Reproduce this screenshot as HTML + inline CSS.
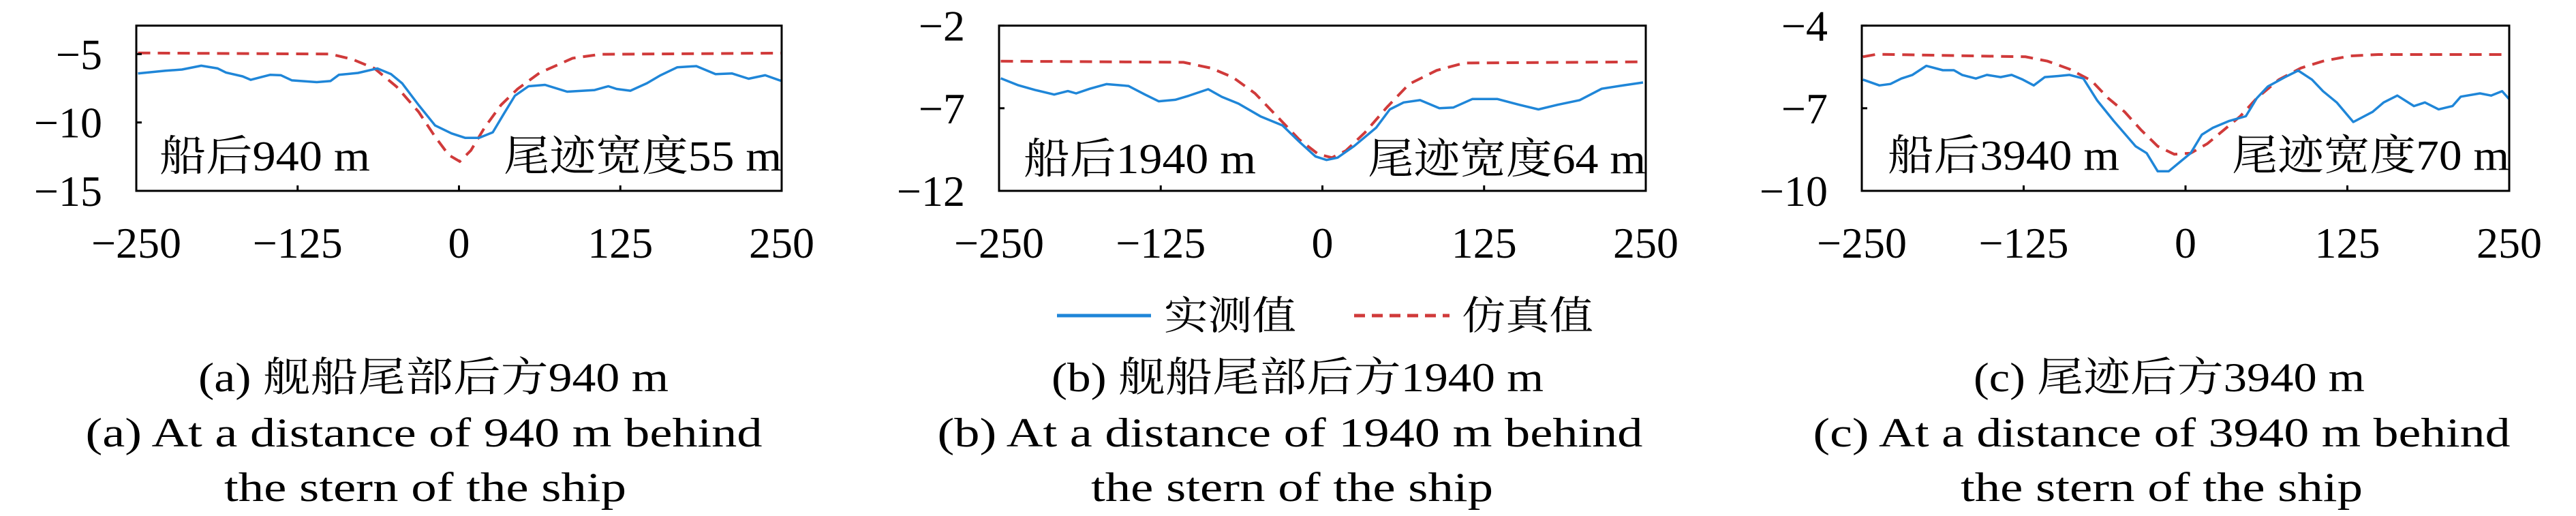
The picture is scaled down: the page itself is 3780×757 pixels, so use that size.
<!DOCTYPE html>
<html><head><meta charset="utf-8"><style>
html,body{margin:0;padding:0;background:#fff;width:3780px;height:757px;overflow:hidden}
svg text{font-family:"Liberation Serif","Noto Serif CJK SC","Noto Sans CJK SC",serif;fill:#000}
</style></head><body>
<svg id="fig" width="3780" height="757" viewBox="0 0 3780 757" xmlns="http://www.w3.org/2000/svg">
<g id="panels"></g>
<g>
<line x1="1551" y1="463" x2="1689" y2="463" stroke="#1f86d8" stroke-width="5"/>
<text x="1708" y="483" font-size="58" textLength="194" lengthAdjust="spacingAndGlyphs">实测值</text>
<line x1="1987" y1="463" x2="2127" y2="463" stroke="#d03a3a" stroke-width="5" stroke-dasharray="16,10"/>
<text x="2145" y="483" font-size="58" textLength="193" lengthAdjust="spacingAndGlyphs">仿真值</text>
</g>
<g font-size="60" text-anchor="middle">
<text x="636" y="574" textLength="690" lengthAdjust="spacingAndGlyphs">(a) 舰船尾部后方940 m</text>
<text x="622" y="655" textLength="993" lengthAdjust="spacingAndGlyphs">(a) At a distance of 940 m behind</text>
<text x="624" y="735" textLength="590" lengthAdjust="spacingAndGlyphs">the stern of the ship</text>
<text x="1904" y="574" textLength="722" lengthAdjust="spacingAndGlyphs">(b) 舰船尾部后方1940 m</text>
<text x="1893" y="655" textLength="1035" lengthAdjust="spacingAndGlyphs">(b) At a distance of 1940 m behind</text>
<text x="1896" y="735" textLength="590" lengthAdjust="spacingAndGlyphs">the stern of the ship</text>
<text x="3183" y="574" textLength="574" lengthAdjust="spacingAndGlyphs">(c) 尾迹后方3940 m</text>
<text x="3172" y="655" textLength="1023" lengthAdjust="spacingAndGlyphs">(c) At a distance of 3940 m behind</text>
<text x="3172" y="735" textLength="590" lengthAdjust="spacingAndGlyphs">the stern of the ship</text>
</g>
</svg>
<script>
const xTicks = [-250, -125, 0, 125, 250];
const yTicksA = [-5, -10, -15];
const yTicksB = [-2, -7, -12];
const yTicksC = [-4, -7, -10];
const measAx = [-248.7,-227.4,-214.6,-199.7,-186.9,-180.5,-167.7,-161.3,-146.4,-137.9,-129.4,-110.2,-99.5,-93.1,-78.2,-63.3,-52.6,-44.1,-31.3,-18.5,-5.8,4.9,15.6,26.2,34.7,43.3,53.9,66.7,83.8,105.1,115.7,122.1,132.8,145.6,156.2,169.0,183.9,198.8,211.6,224.4,237.2,250];
const measAy = [-6.42,-6.22,-6.13,-5.85,-6.05,-6.35,-6.63,-6.88,-6.52,-6.55,-6.92,-7.05,-6.97,-6.52,-6.38,-6.05,-6.47,-7.13,-8.72,-10.22,-10.8,-11.13,-11.13,-10.72,-9.38,-8.05,-7.35,-7.25,-7.75,-7.63,-7.35,-7.55,-7.68,-7.13,-6.55,-5.97,-5.88,-6.47,-6.42,-6.8,-6.55,-6.97];
const simAx = [-248.7,-99.5,-82.5,-65.4,-48.4,-31.3,-18.5,-7.9,0.6,9.2,19.8,32.6,45.4,62.4,88.0,109.3,250];
const simAy = [-4.92,-5.0,-5.38,-6.05,-7.38,-9.22,-11.05,-12.38,-12.85,-12.05,-10.38,-8.72,-7.55,-6.38,-5.3,-5.02,-4.93];
const measBx = [-248.7,-235.1,-222.3,-207.4,-196.8,-190.4,-179.8,-167.0,-150.0,-137.2,-126.6,-113.8,-103.2,-88.3,-77.7,-64.9,-47.9,-30.9,-18.1,-5.3,3.2,11.7,24.5,41.5,52.1,62.8,75.5,90.4,101.1,116.0,135.1,152.1,167.0,181.9,198.9,215.9,233.0,247.9];
const measBy = [-5.19,-5.61,-5.89,-6.17,-5.96,-6.10,-5.82,-5.54,-5.65,-6.17,-6.58,-6.49,-6.24,-5.85,-6.31,-6.72,-7.49,-8.04,-9.01,-9.92,-10.13,-9.99,-9.29,-8.18,-7.07,-6.65,-6.51,-7.0,-6.96,-6.44,-6.44,-6.79,-7.07,-6.79,-6.51,-5.82,-5.61,-5.44];
const simBx = [-248.7,-107.4,-86.2,-69.1,-52.1,-35.1,-18.1,-3.2,7.4,18.1,33.0,50.0,67.0,88.3,109.6,250];
const simBy = [-4.15,-4.22,-4.57,-5.13,-6.10,-7.49,-8.88,-9.78,-9.99,-9.57,-8.46,-6.93,-5.54,-4.71,-4.26,-4.19];
const measCx = [-249.1,-236.4,-227.9,-219.4,-210.9,-200.2,-187.4,-178.9,-172.6,-161.9,-153.4,-142.8,-134.3,-125.7,-117.2,-108.7,-98.1,-89.6,-78.9,-68.3,-55.5,-47.0,-38.5,-30.0,-21.5,-13.0,-4.5,4.0,12.6,21.1,33.8,46.6,55.1,63.6,76.4,87.0,97.7,106.2,116.8,129.6,144.5,153.0,163.6,176.4,184.9,195.5,206.2,212.6,227.4,236.0,244.5,250];
const measCy = [-5.96,-6.17,-6.12,-5.92,-5.79,-5.46,-5.62,-5.62,-5.79,-5.92,-5.79,-5.87,-5.79,-5.96,-6.17,-5.87,-5.83,-5.79,-5.92,-6.71,-7.46,-7.92,-8.38,-8.63,-9.29,-9.29,-8.96,-8.63,-7.96,-7.71,-7.46,-7.29,-6.63,-6.21,-5.88,-5.63,-5.96,-6.38,-6.79,-7.5,-7.13,-6.79,-6.54,-6.92,-6.79,-7.04,-6.92,-6.58,-6.46,-6.54,-6.38,-6.67];
const simCx = [-249.1,-238.5,-123.6,-106.6,-89.6,-72.6,-59.8,-47.0,-34.3,-21.5,-8.7,4.0,16.8,29.6,42.3,55.1,72.1,89.1,106.2,127.4,148.7,250];
const simCy = [-5.13,-5.04,-5.13,-5.29,-5.58,-6.0,-6.63,-7.13,-7.79,-8.38,-8.67,-8.63,-8.29,-7.79,-7.29,-6.63,-5.96,-5.54,-5.29,-5.1,-5.05,-5.05];

const NS = 'http://www.w3.org/2000/svg';
const root = document.getElementById('panels');
function mk(tag, attrs, parent){
  const e = document.createElementNS(NS, tag);
  for (const k in attrs) e.setAttribute(k, attrs[k]);
  parent.appendChild(e); return e;
}
const panels = [
  {id:'a', x0:200, x1:1147, yMin:-15, yMax:-2.92, yt:yTicksA, mx:measAx, my:measAy, sx:simAx, sy:simAy,
   t1:'船后940 m', t1x:234, t1w:309, t2:'尾迹宽度55 m', t2x:739, t2w:408, tb:250},
  {id:'b', x0:1466, x1:2415, yMin:-12, yMax:-2, yt:yTicksB, mx:measBx, my:measBy, sx:simBx, sy:simBy,
   t1:'船后1940 m', t1x:1502, t1w:341, t2:'尾迹宽度64 m', t2x:2007, t2w:408, tb:254},
  {id:'c', x0:2732, x1:3682, yMin:-10, yMax:-4, yt:yTicksC, mx:measCx, my:measCy, sx:simCx, sy:simCy,
   t1:'船后3940 m', t1x:2770, t1w:340, t2:'尾迹宽度70 m', t2x:3275, t2w:407, tb:249}
];
const yTop = 37.6, yBot = 280;
panels.forEach(p => {
  const g = mk('g', {}, root);
  
  
  const X = v => p.x0 + (v + 250) / 500 * (p.x1 - p.x0);
  const Y = v => yBot - (v - p.yMin) / (p.yMax - p.yMin) * (yBot - yTop);
  // series
  const ptsM = p.mx.map((v,i) => X(v).toFixed(1) + ',' + Y(p.my[i]).toFixed(1)).join(' ');
  const ptsS = p.sx.map((v,i) => X(v).toFixed(1) + ',' + Y(p.sy[i]).toFixed(1)).join(' ');
  const s = mk('polyline', {points:ptsS, fill:'none', stroke:'#d03a3a', 'stroke-width':4, 'stroke-dasharray':'18,11'}, g);
  
  
  const m = mk('polyline', {points:ptsM, fill:'none', stroke:'#1f86d8', 'stroke-width':3.5, 'stroke-linejoin':'round'}, g);
  
  
  // frame
  const f = mk('rect', {x:p.x0, y:yTop, width:p.x1-p.x0, height:yBot-yTop, fill:'none', stroke:'#000', 'stroke-width':3}, g);
  
  
  // x ticks
  xTicks.forEach(t => {
    const tk = mk('line', {x1:X(t), x2:X(t), y1:yBot, y2:yBot-8, stroke:'#000', 'stroke-width':3}, g);
    
    
    const lb = mk('text', {x:X(t), y:378, 'font-size':64, 'text-anchor':'middle'}, g);
    lb.textContent = (t < 0 ? '\u2212' + (-t) : '' + t);
    
    
  });
  // y ticks
  p.yt.forEach(t => {
    const tk = mk('line', {x1:p.x0, x2:p.x0+8, y1:Y(t), y2:Y(t), stroke:'#000', 'stroke-width':3}, g);
    
    
    const lb = mk('text', {x:p.x0-50, y:Y(t)+22, 'font-size':64, 'text-anchor':'end'}, g);
    lb.textContent = (t < 0 ? '\u2212' + (-t) : '' + t);
    
    
  });
  const a1 = mk('text', {x:p.t1x, y:p.tb, 'font-size':62, textLength:p.t1w, lengthAdjust:'spacingAndGlyphs'}, g);
  a1.textContent = p.t1;
  
  
  const a2 = mk('text', {x:p.t2x, y:p.tb, 'font-size':62, textLength:p.t2w, lengthAdjust:'spacingAndGlyphs'}, g);
  a2.textContent = p.t2;
  
  
});
</script>
</body></html>
